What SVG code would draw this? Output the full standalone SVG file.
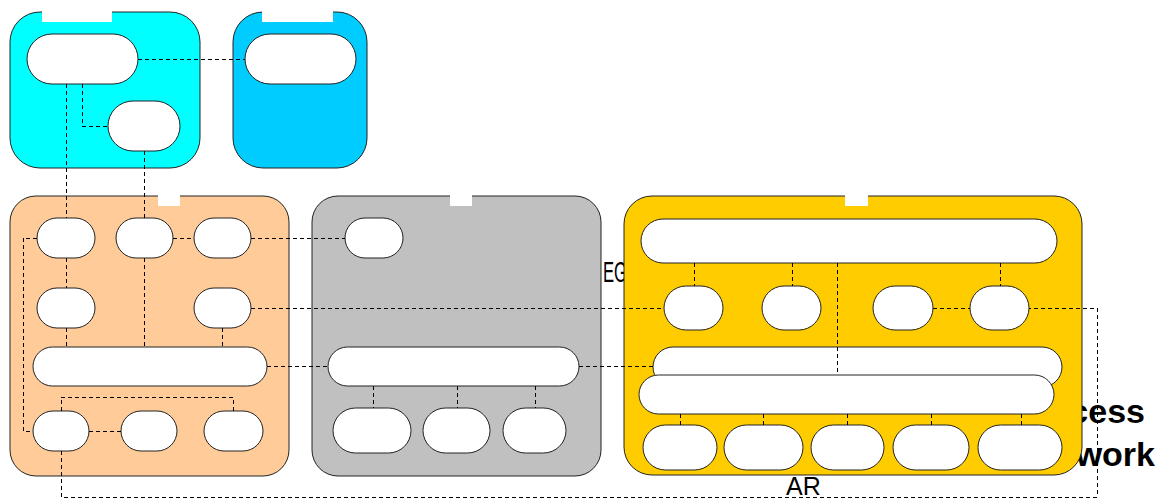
<svg xmlns="http://www.w3.org/2000/svg" width="1160" height="499" viewBox="0 0 1160 499">
  <style>
    .box { stroke: #222; stroke-width: 1; }
    .pill { fill: #fff; stroke: #222; stroke-width: 1; }
    .notch { fill: #fff; stroke: none; }
    .link { fill: none; stroke: #000; stroke-width: 1; stroke-dasharray: 4 3; shape-rendering: crispEdges; }
    .lbl { font-family: "Liberation Sans", Arial, sans-serif; fill: #000; }
  </style>

  <!-- labels sitting behind the panels -->
  <g id="labels-back">
    <text class="lbl" x="603" y="282" font-size="30" textLength="24" lengthAdjust="spacingAndGlyphs">EG</text>
    <text class="lbl" x="1145" y="423" font-size="34" font-weight="bold" text-anchor="end">cess</text>
    <text class="lbl" x="1155" y="466" font-size="34" font-weight="bold" text-anchor="end">work</text>
  </g>

  <!-- top-left cyan panel -->
  <g id="panel-cyan">
    <rect class="box" x="10" y="12" width="190" height="156" rx="30" fill="#00FFFF"/>
    <rect class="notch" x="42" y="11" width="70" height="11"/>
    <rect class="pill" x="27" y="34" width="111" height="50" rx="25"/>
    <rect class="pill" x="108" y="101" width="72" height="50" rx="25"/>
  </g>

  <!-- top blue panel -->
  <g id="panel-blue">
    <rect class="box" x="233" y="12" width="134" height="156" rx="30" fill="#00CCFF"/>
    <rect class="notch" x="262" y="11" width="71" height="11"/>
    <rect class="pill" x="245" y="34" width="111" height="50" rx="25"/>
  </g>

  <!-- orange panel -->
  <g id="panel-orange">
    <rect class="box" x="10" y="196" width="279" height="280" rx="26" fill="#FFCC99"/>
    <rect class="notch" x="158" y="195" width="22" height="11"/>
    <rect class="pill" x="37" y="218" width="58" height="40" rx="20"/>
    <rect class="pill" x="116" y="218" width="57" height="40" rx="20"/>
    <rect class="pill" x="194" y="218" width="57" height="40" rx="20"/>
    <rect class="pill" x="37" y="288" width="58" height="40" rx="20"/>
    <rect class="pill" x="194" y="288" width="57" height="40" rx="20"/>
    <rect class="pill" x="33" y="347" width="234" height="39" rx="19.5"/>
    <rect class="pill" x="33" y="411" width="56" height="40" rx="20"/>
    <rect class="pill" x="121" y="411" width="56" height="40" rx="20"/>
    <rect class="pill" x="204" y="411" width="59" height="40" rx="20"/>
  </g>

  <!-- gray panel -->
  <g id="panel-gray">
    <rect class="box" x="312" y="196" width="289" height="280" rx="26" fill="#C0C0C0"/>
    <rect class="notch" x="450" y="195" width="22" height="11"/>
    <rect class="pill" x="345" y="218" width="58" height="40" rx="20"/>
    <rect class="pill" x="328" y="347" width="251" height="39" rx="19.5"/>
    <rect class="pill" x="333" y="408" width="78" height="45" rx="22.5"/>
    <rect class="pill" x="423" y="408" width="67" height="45" rx="22.5"/>
    <rect class="pill" x="503" y="408" width="63" height="45" rx="22.5"/>
  </g>

  <!-- yellow panel -->
  <g id="panel-yellow">
    <rect class="box" x="624" y="196" width="458" height="279" rx="28" fill="#FFCC00"/>
    <rect class="notch" x="845" y="195" width="23" height="11"/>
    <rect class="pill" x="641" y="219" width="416" height="44" rx="22"/>
    <rect class="pill" x="664" y="286" width="59" height="44" rx="22"/>
    <rect class="pill" x="762" y="286" width="59" height="44" rx="22"/>
    <rect class="pill" x="873" y="286" width="60" height="44" rx="22"/>
    <rect class="pill" x="970" y="286" width="59" height="44" rx="22"/>
    <rect class="pill" x="653" y="347" width="409" height="40" rx="20"/>
    <rect class="pill" x="639" y="375" width="415" height="39" rx="19.5"/>
    <rect class="pill" x="643" y="425" width="74" height="45" rx="22.5"/>
    <rect class="pill" x="724" y="425" width="79" height="45" rx="22.5"/>
    <rect class="pill" x="811" y="425" width="73" height="45" rx="22.5"/>
    <rect class="pill" x="893" y="425" width="76" height="45" rx="22.5"/>
    <rect class="pill" x="978" y="425" width="84" height="45" rx="22.5"/>
  </g>

  <!-- dashed connectors -->
  <g id="connectors">
    <path class="link" d="M138 59H245"/>
    <path class="link" d="M66 84V218"/>
    <path class="link" d="M82 84V126H108"/>
    <path class="link" d="M144 151V218"/>

    <path class="link" d="M37 238H23V431H33"/>
    <path class="link" d="M66 258V288"/>
    <path class="link" d="M66 328V347"/>
    <path class="link" d="M144 258V347"/>
    <path class="link" d="M222 328V347"/>
    <path class="link" d="M173 238H194"/>
    <path class="link" d="M251 238H345"/>
    <path class="link" d="M251 308H664"/>
    <path class="link" d="M267 366H328"/>
    <path class="link" d="M89 431H121"/>
    <path class="link" d="M61 411V397H233V411"/>
    <path class="link" d="M61 451V497H1097V308H1029"/>

    <path class="link" d="M579 366H653"/>
    <path class="link" d="M373 386V408"/>
    <path class="link" d="M457 386V408"/>
    <path class="link" d="M535 386V408"/>

    <path class="link" d="M694 263V286"/>
    <path class="link" d="M792 263V286"/>
    <path class="link" d="M1000 263V286"/>
    <path class="link" d="M837 263V375"/>
    <path class="link" d="M933 308H970"/>
    <path class="link" d="M680 414V425"/>
    <path class="link" d="M763 414V425"/>
    <path class="link" d="M847 414V425"/>
    <path class="link" d="M931 414V425"/>
    <path class="link" d="M1021 414V425"/>
  </g>

  <g id="labels-front">
    <text class="lbl" x="786" y="495" font-size="25">AR</text>
  </g>
</svg>
